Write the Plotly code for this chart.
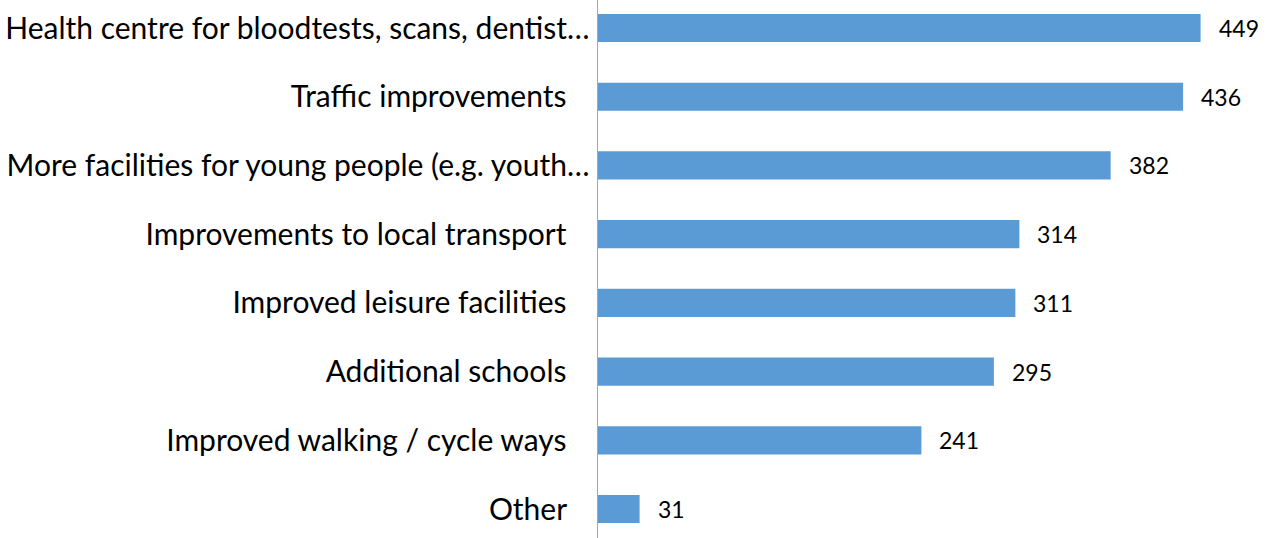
import plotly.graph_objects as go

categories = [
    "Health centre for bloodtests, scans, dentist…",
    "Traffic improvements",
    "More facilities for young people (e.g. youth…",
    "Improvements to local transport",
    "Improved leisure facilities",
    "Additional schools",
    "Improved walking / cycle ways",
    "Other",
]
values = [449, 436, 382, 314, 311, 295, 241, 31]

# plot bottom-to-top
cats_rev = categories[::-1]
vals_rev = values[::-1]
tick_text = [c if c.endswith("…") else c + "\u00a0" * 3 for c in cats_rev]

BAR = "#5B9BD5"
FONT = "Lato"

fig = go.Figure()
fig.add_trace(go.Bar(
    x=vals_rev,
    y=list(range(len(cats_rev))),
    orientation="h",
    marker=dict(color=BAR, line=dict(width=0)),
    width=0.41,
    hoverinfo="skip",
))

annotations = []
for i, v in enumerate(vals_rev):
    annotations.append(dict(
        x=v, y=i, xref="x", yref="y", text=str(v), showarrow=False,
        xanchor="left", yanchor="middle", xshift=16,
        font=dict(family=FONT, size=23, color="#000000"),
    ))

fig.update_layout(
    width=1269, height=538,
    margin=dict(l=598, r=0, t=0, b=0),
    paper_bgcolor="white", plot_bgcolor="white",
    showlegend=False,
    annotations=annotations,
    xaxis=dict(range=[0, 500], showgrid=False, zeroline=False,
               showticklabels=False, showline=False, fixedrange=True),
    yaxis=dict(range=[-0.422, 7.408], tickmode="array",
               tickvals=list(range(len(cats_rev))), ticktext=tick_text,
               showgrid=False, zeroline=False, showline=True,
               linecolor="#A6A6A6", linewidth=1.5, ticks="",
               ticklabelstandoff=1, fixedrange=True,
               tickfont=dict(family=FONT, size=30, color="#000000")),
)

fig.write_html(
    "out.html",
    config={"displayModeBar": False, "staticPlot": True},
    post_script="document.body.style.margin='0';document.body.style.overflow='hidden';",
)
